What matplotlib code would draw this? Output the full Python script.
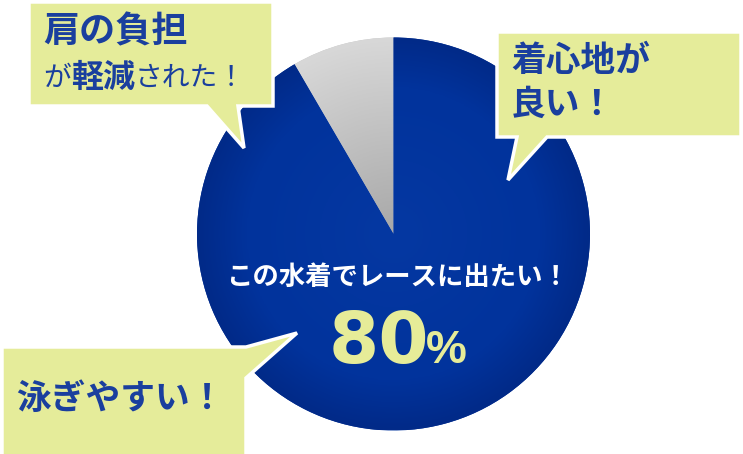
import numpy as np
import matplotlib
matplotlib.use("Agg")
import matplotlib.pyplot as plt
from matplotlib.patches import Polygon
from matplotlib.colors import LinearSegmentedColormap

plt.rcParams['font.family'] = ['Noto Sans CJK JP', 'DejaVu Sans']

W, H = 743, 454

# pie shares (grey slice ~30 degrees)
slice_names = ['その他', 'この水着でレースに出たい']
slice_shares = [8.4, 91.6]
slice_colors = ['#c4c4c4', '#01349e']

headline = 'この水着でレースに出たい！'
headline_value = '80'
headline_unit = '%'

# callout texts: list of lines, each line a list of (text, bold, size)
callout_shoulder = [[('肩の負担', True, 26)],
                    [('が', False, 20), ('軽減', True, 23), ('された！', False, 20)]]
callout_comfort = [[('着心地が', True, 25)], [('良い！', True, 25)]]
callout_swim = [[('泳ぎやすい！', True, 25)]]

box_color = '#e5ec9a'
text_blue = '#1a3f9e'

fig = plt.figure(figsize=(W / 100, H / 100), dpi=100)
ax = fig.add_axes([0, 0, 1, 1])


def Y(y):
    # picture rows -> axis units (y up)
    return H - y


cx, cy, r = 393.5, Y(234), 196.5
wedges, _ = ax.pie(slice_shares, colors=slice_colors, startangle=90,
                   counterclock=True, center=(cx, cy), radius=r,
                   wedgeprops=dict(linewidth=0))

# shading inside each slice
gx, gy = np.meshgrid(np.linspace(-1, 1, 300), np.linspace(-1, 1, 300))
dist = np.clip(np.sqrt(gx ** 2 + gy ** 2), 0, 1)
blue_cmap = LinearSegmentedColormap.from_list(
    'b', [(0, '#0538a2'), (0.75, '#01339c'), (1, '#022a88')])
grey_cmap = LinearSegmentedColormap.from_list(
    'g', [(0, '#a8a8a8'), (1, '#d8d8d8')])
for wedge, cmap in zip(wedges, [grey_cmap, blue_cmap]):
    im = ax.imshow(dist, cmap=cmap, vmin=0, vmax=1, origin='lower',
                   extent=(cx - r, cx + r, cy - r, cy + r), zorder=1,
                   interpolation='bilinear')
    im.set_clip_path(wedge)

# callout boxes with tails
boxes = [
    [(29, 2), (273, 2), (273, 106), (238, 106), (244, 148), (207, 106), (29, 106)],
    [(497, 32), (741, 32), (741, 137), (547, 137), (508, 180), (517, 137), (497, 137)],
    [(2, 347), (246, 347), (297, 333), (246, 378), (246, 470), (2, 470)],
]
for pts in boxes:
    ax.add_patch(Polygon([(x, Y(y)) for x, y in pts], closed=True,
                         facecolor=box_color, edgecolor='white', linewidth=2.5,
                         joinstyle='miter', zorder=3))

fig.canvas.draw()
renderer = fig.canvas.get_renderer()


def write_lines(lines, x0, ys):
    for line, y in zip(lines, ys):
        x = x0
        for txt, bold, size in line:
            t = ax.text(x, Y(y), txt, fontsize=size, color=text_blue,
                        fontweight='bold' if bold else 'normal',
                        ha='left', va='center', zorder=4)
            bb = t.get_window_extent(renderer)
            x += bb.width


write_lines(callout_shoulder, 43, [32, 78])
write_lines(callout_comfort, 511, [61, 104])
write_lines(callout_swim, 16, [398])

ax.text(397, Y(277), headline, fontsize=19, color='white', fontweight='bold',
        ha='center', va='center', zorder=4)
ax.text(329, Y(363), headline_value, fontsize=52, color='#e6ec98',
        fontweight='bold', family=['DejaVu Sans'], ha='left',
        va='baseline', zorder=4)
ax.text(426, Y(363), headline_unit, fontsize=33, color='#e6ec98',
        fontweight='bold', family=['Liberation Sans'], ha='left',
        va='baseline', zorder=4)

ax.set_xlim(0, W)
ax.set_ylim(0, H)
ax.set_aspect('equal')
ax.axis('off')
fig.savefig('out.png', dpi=100, facecolor='white')
